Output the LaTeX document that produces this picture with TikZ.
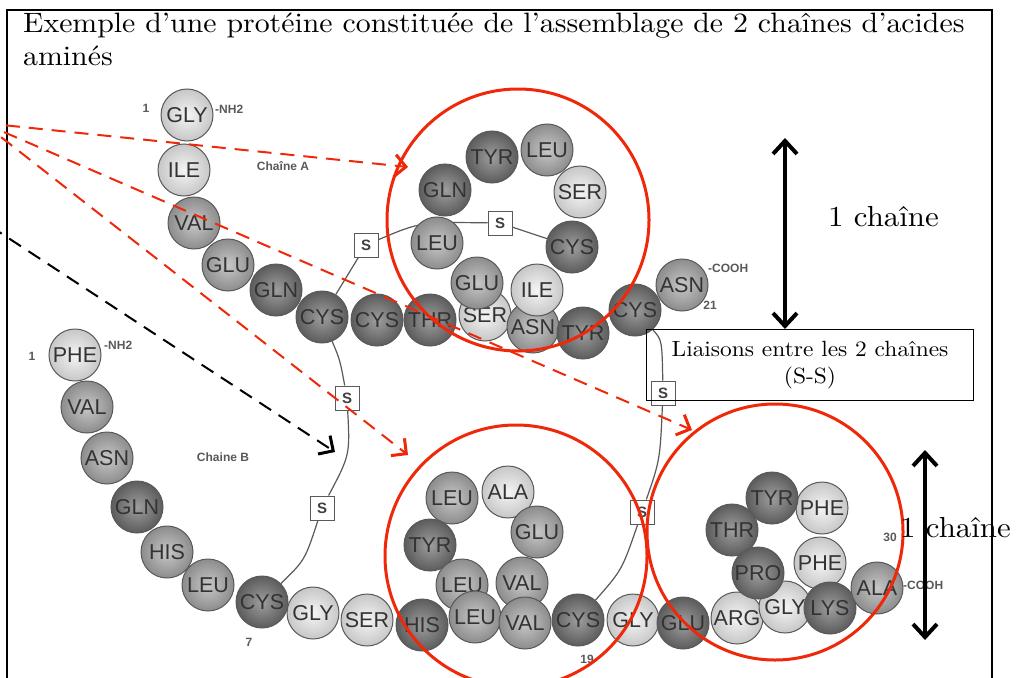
\documentclass[tikz,border=0pt]{standalone}
\usepackage{fontspec}
\newfontfamily\ressf{Liberation Sans}
\newfontfamily\docfont[FakeStretch=1.065]{lmroman10-regular.otf}
\usetikzlibrary{arrows.meta}
\definecolor{zonered}{RGB}{240,40,10}
\pgfdeclarelayer{background}
\pgfsetlayers{background,main}

\begin{document}
\begin{tikzpicture}[x=1pt, y=-1pt,
    res/.style = {circle, draw=black!65, line width=1pt, minimum size=52pt, inner sep=0pt,
                  font=\ressf\fontsize{21.5}{21.5}\selectfont, text=black!80},
    resl/.style = {res, inner color=black!4, outer color=black!22},
    resm/.style = {res, inner color=black!22, outer color=black!45},
    resd/.style = {res, inner color=black!38, outer color=black!64},
    sbox/.style = {draw=black!65, fill=white, line width=1pt, minimum size=24pt, inner sep=0pt,
                   font=\ressf\bfseries\fontsize{15}{15}\selectfont, text=black!75},
    tag/.style = {font=\ressf\bfseries\fontsize{12}{12}\selectfont, text=black!65, inner sep=0pt},
    bond/.style = {draw=black!65, line width=1.2pt},
    zone/.style = {circle, draw=zonered, line width=3pt, minimum size=262pt, inner sep=0pt},
    pointer/.style = {dash pattern=on 14pt off 9pt, line width=2pt,
                      -{Straight Barb[length=11pt,width=22pt,line width=3pt]}},
    span/.style = {line width=4pt, {Straight Barb[length=13pt,width=24pt]}-{Straight Barb[length=13pt,width=24pt]}}]

    \useasboundingbox (0,0) rectangle (1035,677);
    \draw[line width=2pt] (7,690) -- (7,10) -- (992,10) -- (992,690);

    \node[anchor=base west, inner sep=0pt, font=\docfont\fontsize{28}{32}\selectfont] (titleA) at (23,33)
        {Exemple d’une protéine constituée de l’assemblage de 2 chaînes d’acides};
    \node[anchor=base west, inner sep=0pt, font=\docfont\fontsize{28}{32}\selectfont] (titleB) at (23,65) {aminés};

    % chaine A
    \node[resl] (a1) at (187,115) {GLY};
    \node[resl] (a2) at (184,170) {ILE};
    \node[resm] (a3) at (194,223) {VAL};
    \node[resm] (a4) at (228,265) {GLU};
    \node[resd] (a5) at (276,290) {GLN};
    \node[resd] (a6) at (322,317) {CYS};
    \node[resd] (a7) at (377,320) {CYS};
    \node[resd] (a8) at (430,320) {THR};
    \node[resl] (a9) at (485,315) {SER};
    \node[resm] (a18) at (533,327) {ASN};
    \node[resl] (a10) at (537,290) {ILE};
    \node[resd] (a11) at (572,247) {CYS};
    \node[resl] (a12) at (580,192) {SER};
    \node[resm] (a13) at (547,150) {LEU};
    \node[resd] (a14) at (492,157) {TYR};
    \node[resd] (a15) at (445,190) {GLN};
    \node[resm] (a16) at (437,243) {LEU};
    \node[resm] (a17) at (477,283) {GLU};
    \node[resd] (a19) at (583,333) {TYR};
    \node[resd] (a20) at (635,310) {CYS};
    \node[resm] (a21) at (682,285) {ASN};

    % chaine B
    \node[resl] (b1) at (75,355) {PHE};
    \node[resm] (b2) at (87,407) {VAL};
    \node[resm] (b3) at (107,458) {ASN};
    \node[resd] (b4) at (137,507) {GLN};
    \node[resm] (b5) at (167,552) {HIS};
    \node[resm] (b6) at (208,585) {LEU};
    \node[resd] (b7) at (262,602) {CYS};
    \node[resl] (b8) at (313,613) {GLY};
    \node[resl] (b9) at (367,620) {SER};
    \node[resm] (b15) at (452,498) {LEU};
    \node[resl] (b14) at (508,492) {ALA};
    \node[resm] (b13) at (537,532) {GLU};
    \node[resd] (b16) at (430,545) {TYR};
    \node[resm] (b17) at (462,585) {LEU};
    \node[resm] (b18) at (522,583) {VAL};
    \node[resd] (b10) at (422,625) {HIS};
    \node[resm] (b11) at (475,617) {LEU};
    \node[resm] (b12) at (525,623) {VAL};
    \node[resd] (b19) at (578,620) {CYS};
    \node[resl] (b20) at (633,620) {GLY};
    \node[resd] (b21) at (683,623) {GLU};
    \node[resl] (b22) at (737,618) {ARG};
    \node[resl] (b23) at (785,607) {GLY};
    \node[resl] (b24) at (820,563) {PHE};
    \node[resl] (b25) at (822,508) {PHE};
    \node[resd] (b26) at (772,498) {TYR};
    \node[resd] (b27) at (732,530) {THR};
    \node[resd] (b28) at (758,573) {PRO};
    \node[resd] (b29) at (830,608) {LYS};
    \node[resm] (b30) at (877,588) {ALA};

    \node[tag] (nA1) at (146,108) {1};
    \node[tag, anchor=west] (nhA) at (215,109) {-NH2};
    \node[tag] (chA) at (283,166) {Chaîne A};
    \node[tag] (nA21) at (710,305) {21};
    \node[tag, anchor=west] (coA) at (708,268) {-COOH};
    \node[tag] (nB1) at (32,356) {1};
    \node[tag, anchor=west] (nhB) at (104,345) {-NH2};
    \node[tag] (chB) at (223,457) {Chaine B};
    \node[tag] (nB7) at (249,642) {7};
    \node[tag] (nB19) at (587,659) {19};
    \node[tag] (nB30) at (890,537) {30};
    \node[tag, anchor=west] (coB) at (903,585) {-COOH};

    % ponts S-S
    \node[sbox] (sA1) at (366,245) {S};
    \node[sbox] (sA2) at (500,223) {S};
    \node[sbox] (sB1) at (347,398) {S};
    \node[sbox] (sB2) at (322,508) {S};
    \node[sbox] (sC1) at (663,393) {S};
    \node[sbox] (sC2) at (642,512) {S};
    \begin{pgfonlayer}{background}
        \draw[bond] (a6) -- (sA1);
        \draw[bond] (sA1) .. controls (420,222) .. (sA2);
        \draw[bond] (sA2) -- (a11);
        \draw[bond] (a6) .. controls (340,360) .. (sB1);
        \draw[bond] (sB1) .. controls (350,455) .. (sB2);
        \draw[bond] (sB2) .. controls (305,560) .. (b7);
        \draw[bond] (a20) .. controls (662,340) .. (sC1);
        \draw[bond] (sC1) .. controls (660,460) .. (sC2);
        \draw[bond] (sC2) .. controls (622,570) .. (b19);
    \end{pgfonlayer}

    \node[draw, line width=1pt, minimum width=327pt, minimum height=71pt, align=center,
          font=\docfont\fontsize{22}{27}\selectfont] (liaison) at (810,365) {Liaisons entre les 2 chaînes\\(S-S)};

    \node[zone] (zoneA) at (518,220) {};
    \node[zone] (zoneB) at (516,556) {};
    \node[zone, minimum size=256pt] (zoneC) at (775,532) {};

    \coordinate (src) at (-17,123);
    \coordinate (tipA) at (408,167);
    \coordinate (tipB) at (408,455);
    \coordinate (tipC) at (692,430);
    \coordinate (srcK) at (-10,226);
    \coordinate (tipK) at (335,452);
    \draw[pointer, zonered] (src) -- (tipA);
    \draw[pointer, zonered] (src) -- (tipB);
    \draw[pointer, zonered] (src) -- (tipC);
    \draw[pointer, black] (srcK) -- (tipK);

    % une chaine
    \coordinate (spanA1) at (785,138);
    \coordinate (spanA2) at (785,329);
    \coordinate (spanB1) at (925,450);
    \coordinate (spanB2) at (925,640);
    \draw[span] (spanA1) -- (spanA2);
    \draw[span] (spanB1) -- (spanB2);
    \node[anchor=base west, inner sep=0pt, font=\docfont\fontsize{29}{29}\selectfont] (oneA) at (828,226) {1 chaîne};
    \node[anchor=base west, inner sep=0pt, font=\docfont\fontsize{29}{29}\selectfont] (oneB) at (900,537) {1 chaîne};
\end{tikzpicture}
\end{document}
